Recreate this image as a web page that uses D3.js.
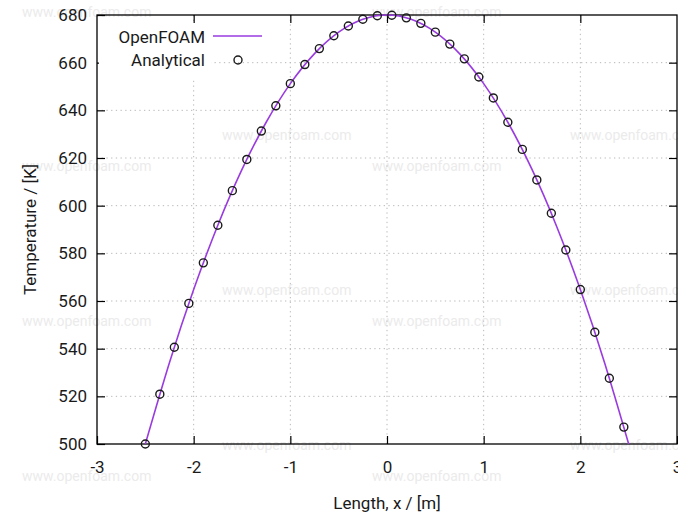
<!DOCTYPE html>
<html>
<head>
<meta charset="utf-8">
<script src="https://cdn.jsdelivr.net/npm/d3@7"></script>
<style>
  body { margin: 0; background: #fff; }
  svg { display: block; font-family: Roboto, "Noto Sans", sans-serif; }
</style>
</head>
<body>
<svg id="chart" width="678" height="513"></svg>
<script>
// Analytical solution, sampled every 0.15 m.
var analyticalX = [-2.5, -2.35, -2.2, -2.05, -1.9, -1.75, -1.6, -1.45, -1.3, -1.15,
  -1.0, -0.85, -0.7, -0.55, -0.4, -0.25, -0.1, 0.05, 0.2, 0.35,
  0.5, 0.65, 0.8, 0.95, 1.1, 1.25, 1.4, 1.55, 1.7, 1.85,
  2.0, 2.15, 2.3, 2.45];
var analyticalT = [500.0, 520.9, 540.6, 559.0, 576.0, 591.8, 606.3, 619.4, 631.3, 641.9,
  651.2, 659.2, 665.9, 671.3, 675.4, 678.2, 679.7, 679.9, 678.8, 676.5,
  672.8, 667.8, 661.6, 654.0, 645.2, 635.0, 623.6, 610.8, 596.8, 581.4,
  564.8, 546.9, 527.6, 507.1];

// OpenFOAM result along the line.
var openfoamX = [-2.5, -2.25, -2.0, -1.75, -1.5, -1.25, -1.0, -0.75, -0.5, -0.25, 0,
  0.25, 0.5, 0.75, 1.0, 1.25, 1.5, 1.75, 2.0, 2.25, 2.5];
var openfoamT = [500.0, 534.2, 564.8, 591.8, 615.2, 635.0, 651.2, 663.8, 672.8, 678.2, 680.0,
  678.2, 672.8, 663.8, 651.2, 635.0, 615.2, 591.8, 564.8, 534.2, 500.0];

var xTicks = [-3, -2, -1, 0, 1, 2, 3];
var yTicks = [500, 520, 540, 560, 580, 600, 620, 640, 660, 680];

var seriesNames = ['OpenFOAM', 'Analytical'];
var xLabel = 'Length, x / [m]';
var yLabel = 'Temperature / [K]';

// Layout (window.top is reserved, so use prefixed names).
var mLeft = 97, mTop = 15, plotW = 580, plotH = 429;
var lineColor = '#9a3be0';

var svg = d3.select('#chart');

// Faint watermark tiles.
var marks = [[22, 17], [372, 17], [222, 140], [570, 140], [22, 171], [372, 171],
  [222, 295], [570, 295], [22, 326], [372, 326], [222, 450], [570, 450],
  [22, 481], [372, 481]];
svg.append('g').selectAll('text').data(marks).enter().append('text')
  .attr('x', function(d) { return d[0]; })
  .attr('y', function(d) { return d[1]; })
  .attr('font-size', 14)
  .attr('fill', '#ebebeb')
  .text('www.openfoam.com');

var x = d3.scaleLinear().domain([-3, 3]).range([mLeft, mLeft + plotW]);
var y = d3.scaleLinear().domain([500, 680]).range([mTop + plotH, mTop]);

// Dotted grid.
var grid = svg.append('g')
  .attr('stroke', '#b8b8b8')
  .attr('stroke-width', 1)
  .attr('stroke-dasharray', '1.3,3.4');
grid.selectAll('.gx').data(xTicks.slice(1, -1)).enter().append('line')
  .attr('x1', function(d) { return x(d); }).attr('x2', function(d) { return x(d); })
  .attr('y1', mTop).attr('y2', mTop + plotH);
grid.selectAll('.gy').data(yTicks.slice(1, -1)).enter().append('line')
  .attr('y1', function(d) { return y(d); }).attr('y2', function(d) { return y(d); })
  .attr('x1', mLeft).attr('x2', mLeft + plotW);

// Plain hyphen for negatives, as gnuplot prints them.
function plain(d) { return String(d); }

// Axes with inward ticks on all sides.
function styleAxis(g) {
  g.select('.domain').remove();
  g.selectAll('.tick line').attr('stroke', '#000').attr('stroke-width', 1.2);
  g.selectAll('.tick text').attr('fill', '#1a1a1a').attr('font-size', 17)
    .attr('font-family', 'Roboto, sans-serif');
}
svg.append('g').attr('transform', 'translate(0,' + (mTop + plotH) + ')')
  .call(d3.axisBottom(x).tickValues(xTicks).tickFormat(plain)
    .tickSizeInner(-8).tickSizeOuter(0).tickPadding(17))
  .call(styleAxis);
svg.append('g').attr('transform', 'translate(0,' + mTop + ')')
  .call(d3.axisTop(x).tickValues(xTicks.slice(1, -1)).tickFormat('')
    .tickSizeInner(-8).tickSizeOuter(0))
  .call(styleAxis);
svg.append('g').attr('transform', 'translate(' + mLeft + ',0)')
  .call(d3.axisLeft(y).tickValues(yTicks).tickFormat(plain)
    .tickSizeInner(-8).tickSizeOuter(0).tickPadding(10))
  .call(styleAxis);
svg.append('g').attr('transform', 'translate(' + (mLeft + plotW) + ',0)')
  .call(d3.axisRight(y).tickValues(yTicks.slice(1, -1)).tickFormat('')
    .tickSizeInner(-8).tickSizeOuter(0))
  .call(styleAxis);

// Frame.
svg.append('rect')
  .attr('x', mLeft).attr('y', mTop).attr('width', plotW).attr('height', plotH)
  .attr('fill', 'none').attr('stroke', '#000').attr('stroke-width', 1.3);

// Legend backdrop hides grid behind the key text.
svg.append('rect').attr('x', mLeft + 2).attr('y', mTop + 8)
  .attr('width', 112).attr('height', 56).attr('fill', '#fff');

// OpenFOAM curve.
var lineGen = d3.line()
  .x(function(d, i) { return x(openfoamX[i]); })
  .y(function(d) { return y(d); })
  .curve(d3.curveNatural);
svg.append('path').datum(openfoamT)
  .attr('d', lineGen)
  .attr('fill', 'none').attr('stroke', lineColor).attr('stroke-width', 1.6);

// Analytical points.
svg.append('g').selectAll('circle').data(analyticalT).enter().append('circle')
  .attr('cx', function(d, i) { return x(analyticalX[i]); })
  .attr('cy', function(d) { return y(d); })
  .attr('r', 4)
  .attr('fill', 'none').attr('stroke', '#1a1a1a').attr('stroke-width', 1.4);

// Key.
var key = svg.append('g').attr('font-size', 17).attr('fill', '#1a1a1a');
key.append('text').attr('x', 205).attr('y', 43).attr('text-anchor', 'end').text(seriesNames[0]);
key.append('line').attr('x1', 213).attr('x2', 262).attr('y1', 36).attr('y2', 36)
  .attr('stroke', lineColor).attr('stroke-width', 1.6);
key.append('text').attr('x', 205).attr('y', 66).attr('text-anchor', 'end').text(seriesNames[1]);
key.append('circle').attr('cx', 238).attr('cy', 60).attr('r', 4)
  .attr('fill', 'none').attr('stroke', '#1a1a1a').attr('stroke-width', 1.4);

// Axis titles.
svg.append('text').attr('x', mLeft + plotW / 2).attr('y', 509)
  .attr('text-anchor', 'middle').attr('font-size', 17).attr('fill', '#1a1a1a')
  .text(xLabel);
svg.append('text')
  .attr('transform', 'translate(36,' + (mTop + plotH / 2) + ') rotate(-90)')
  .attr('text-anchor', 'middle').attr('font-size', 17).attr('fill', '#1a1a1a')
  .text(yLabel);
</script>
</body>
</html>
